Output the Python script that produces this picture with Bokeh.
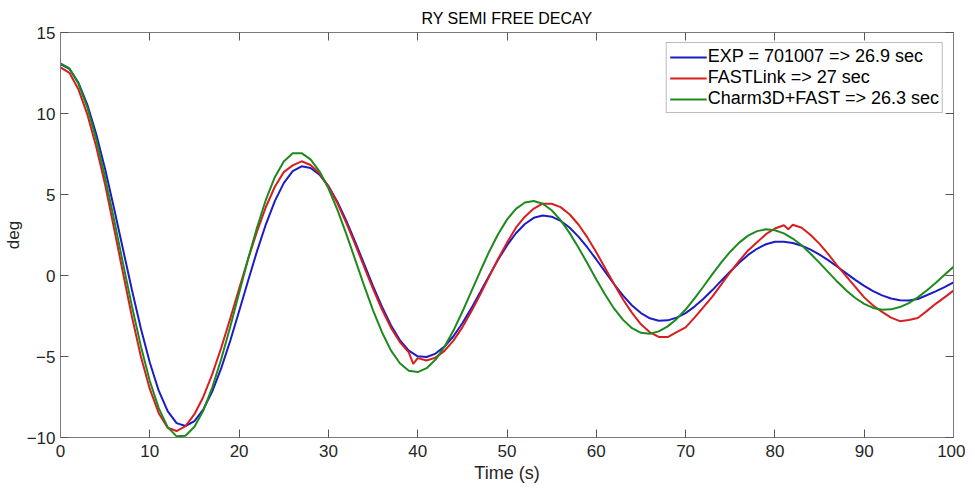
from bokeh.plotting import figure
from bokeh.models import LinearAxis, Range1d, Legend, LegendItem, FixedTicker
from bokeh.embed import file_html
from bokeh.resources import INLINE

# ---- data ----
title_text = "RY SEMI FREE DECAY"
x_label = "Time (s)"
y_label = "deg"
x_ticks = [0, 10, 20, 30, 40, 50, 60, 70, 80, 90, 100]
y_ticks = [-10, -5, 0, 5, 10, 15]

series_names = ["EXP = 701007 => 26.9 sec", "FASTLink => 27 sec", "Charm3D+FAST => 26.3 sec"]

t_exp = list(range(0, 101))
exp_deg = [13.05, 12.76, 11.91, 10.55, 8.73, 6.56, 4.14, 1.62, -0.90, -3.27,
           -5.37, -7.11, -8.37, -9.11, -9.29, -8.99, -8.26, -7.15, -5.72, -4.04,
           -2.21, -0.34, 1.49, 3.16, 4.59, 5.70, 6.44, 6.74, 6.64, 6.23,
           5.52, 4.56, 3.39, 2.08, 0.71, -0.65, -1.93, -3.07, -3.99, -4.64,
           -4.99, -5.03, -4.82, -4.39, -3.75, -2.95, -2.03, -1.03, -0.01, 0.97,
           1.86, 2.61, 3.18, 3.56, 3.70, 3.63, 3.37, 2.96, 2.40, 1.73,
           0.99, 0.22, -0.54, -1.24, -1.85, -2.32, -2.64, -2.79, -2.77, -2.60,
           -2.32, -1.92, -1.44, -0.90, -0.32, 0.25, 0.79, 1.27, 1.65, 1.93,
           2.08, 2.09, 2.01, 1.84, 1.60, 1.29, 0.93, 0.54, 0.13, -0.27,
           -0.64, -0.96, -1.23, -1.42, -1.53, -1.54, -1.45, -1.22, -0.98, -0.72,
           -0.42]

t_fast = [0, 1, 2, 3, 4, 5, 6, 7, 8, 9,
          10, 11, 12, 13, 14, 15, 16, 17, 18, 19,
          20, 21, 22, 23, 24, 25, 26, 27, 28, 29,
          30, 31, 32, 33, 34, 35, 36, 37, 38, 39, 39.5,
          40, 41, 42, 43, 44, 45, 46, 47, 48, 49,
          50, 51, 52, 53, 54, 55, 56, 57, 58, 59,
          60, 61, 62, 63, 64, 65, 66, 67, 68, 69,
          70, 71, 72, 73, 74, 75, 76, 77, 78, 79,
          80, 81, 81.5, 82, 83, 84, 85, 86, 87, 88, 89,
          90, 91, 92, 93, 94, 95, 96, 97, 98, 99,
          100]
fast_deg = [12.85, 12.51, 11.50, 9.95, 7.95, 5.6, 2.9, 0.15, -2.55, -5.0,
            -7.0, -8.5, -9.4, -9.6, -9.3, -8.56, -7.48, -6.09, -4.46, -2.67,
            -0.82, 1.00, 2.71, 4.23, 5.48, 6.38, 6.8, 7.05, 6.82, 6.30,
            5.50, 4.47, 3.25, 1.92, 0.54, -0.83, -2.10, -3.22, -4.11, -4.75, -5.45,
            -5.1, -5.25, -5.07, -4.65, -4.02, -3.20, -2.23, -1.17, -0.07, 1.02,
            2.03, 2.95, 3.63, 4.13, 4.43, 4.43, 4.22, 3.78, 3.15, 2.35,
            1.43, 0.45, -0.54, -1.48, -2.31, -3.01, -3.51, -3.79, -3.8, -3.5,
            -3.2, -2.6, -1.95, -1.3, -0.55, 0.2, 0.9, 1.55, 2.05, 2.55,
            2.9, 3.1, 2.85, 3.13, 2.95, 2.5, 1.95, 1.3, 0.6, -0.05, -0.7,
            -1.35, -1.85, -2.25, -2.6, -2.82, -2.75, -2.62, -2.2, -1.75, -1.35,
            -0.93]

t_charm = list(range(0, 101))
charm_deg = [13.1, 12.78, 11.85, 10.37, 8.39, 6.04, 3.44, 0.75, -1.90, -4.36,
             -6.51, -8.19, -9.36, -9.93, -9.89, -9.34, -8.33, -6.90, -5.15, -3.18,
             -1.08, 1.01, 2.95, 4.68, 6.07, 7.04, 7.54, 7.55, 7.17, 6.43,
             5.38, 4.07, 2.57, 0.98, -0.63, -2.15, -3.50, -4.62, -5.42, -5.88,
             -5.96, -5.72, -5.19, -4.40, -3.40, -2.24, -1.00, 0.26, 1.47, 2.55,
             3.45, 4.11, 4.51, 4.60, 4.43, 4.03, 3.42, 2.63, 1.73, 0.75,
             -0.25, -1.19, -2.05, -2.74, -3.25, -3.54, -3.59, -3.45, -3.14, -2.68,
             -2.10, -1.41, -0.68, 0.08, 0.81, 1.47, 2.03, 2.46, 2.74, 2.85,
             2.79, 2.60, 2.28, 1.86, 1.34, 0.78, 0.19, -0.39, -0.93, -1.39,
             -1.75, -2.00, -2.11, -2.09, -1.95, -1.70, -1.35, -0.93, -0.46, 0.04,
             0.54]

colors = ["#1c1cc4", "#d81e1e", "#1e8a1e"]

FONT = "Liberation Sans"
AXIS_GRAY = "#7a7a7a"
TEXT = "#262626"

p = figure(frame_width=893, frame_height=405,
           min_border_left=57, min_border_right=12, min_border_top=32, min_border_bottom=46,
           x_range=Range1d(0, 100), y_range=Range1d(-10, 15),
           output_backend="svg", toolbar_location=None,
           x_axis_label=x_label, y_axis_label=y_label, title=title_text)

p.grid.visible = False
p.outline_line_color = None
p.background_fill_color = "white"
p.border_fill_color = "white"

p.title.align = "center"
p.title.text_font = FONT
p.title.text_font_size = "16px"
p.title.text_font_style = "normal"
p.title.text_color = "#000000"
p.title.standoff = 12

bottom_axis = p.below[0]
left_axis = p.left[0]
top_axis = LinearAxis()
right_axis = LinearAxis()
p.add_layout(top_axis, "above")
p.add_layout(right_axis, "right")

for ax in [bottom_axis, top_axis]:
    ax.ticker = FixedTicker(ticks=x_ticks)
for ax in [left_axis, right_axis]:
    ax.ticker = FixedTicker(ticks=y_ticks)

for ax in [bottom_axis, left_axis, top_axis, right_axis]:
    ax.axis_line_color = AXIS_GRAY
    ax.axis_line_width = 1
    ax.major_tick_line_color = "#555555"
    ax.major_tick_in = 8
    ax.major_tick_out = 0
    ax.minor_tick_line_color = None
    ax.major_label_text_font = FONT
    ax.major_label_text_font_size = "17px"
    ax.major_label_text_color = TEXT
    ax.axis_label_text_font = FONT
    ax.axis_label_text_font_size = "17px"
    ax.axis_label_text_font_style = "normal"
    ax.axis_label_text_color = TEXT

for ax in [top_axis, right_axis]:
    ax.major_label_text_font_size = "1px"
    ax.major_label_text_color = None
    ax.major_label_standoff = 0
    ax.axis_label = None

bottom_axis.axis_label_text_font_size = "18px"
bottom_axis.major_label_standoff = 7
bottom_axis.axis_label_standoff = 3
left_axis.major_label_standoff = 5
left_axis.axis_label_standoff = 1

r_exp = p.line(t_exp, exp_deg, line_color=colors[0], line_width=2)
r_fast = p.line(t_fast, fast_deg, line_color=colors[1], line_width=2)
r_charm = p.line(t_charm, charm_deg, line_color=colors[2], line_width=2)

legend = Legend(items=[LegendItem(label=series_names[0], renderers=[r_exp]),
                       LegendItem(label=series_names[1], renderers=[r_fast]),
                       LegendItem(label=series_names[2], renderers=[r_charm])],
                location="top_right")
legend.label_text_font = FONT
legend.label_text_font_size = "18px"
legend.label_text_color = "#000000"
legend.glyph_width = 37
legend.glyph_height = 20
legend.label_height = 20
legend.label_standoff = 1
legend.spacing = 0
legend.padding = 3
legend.margin = 10
legend.border_line_color = AXIS_GRAY
legend.border_line_width = 1
legend.background_fill_color = "white"
legend.background_fill_alpha = 1
p.add_layout(legend)

open("out.html", "w").write(file_html(p, INLINE))
